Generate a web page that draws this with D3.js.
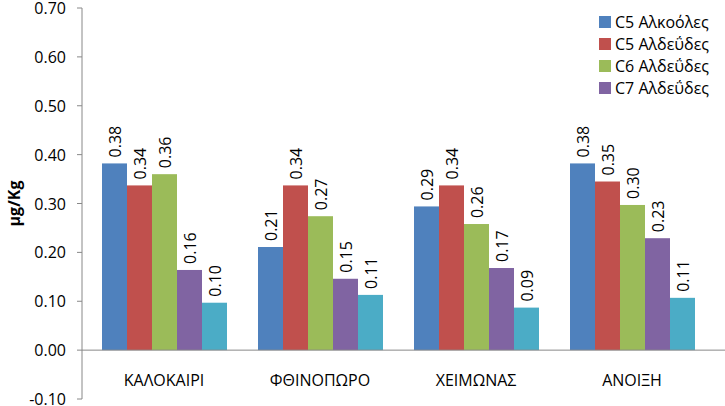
<!DOCTYPE html><html><head><meta charset="utf-8"><script src="https://cdn.jsdelivr.net/npm/d3@7"></script>
<style>body{margin:0;background:#fff}text{font-family:"Open Sans",sans-serif}</style></head><body><svg width="725" height="406"></svg><script>
const categories=["ΚΑΛΟΚΑΙΡΙ","ΦΘΙΝΟΠΩΡΟ","ΧΕΙΜΩΝΑΣ","ΑΝΟΙΞΗ"];
const series=["C5 Αλκοόλες","C5 Αλδεΰδες","C6 Αλδεΰδες","C7 Αλδεΰδες","C8 Αλδεΰδες"];
const colors=["#4F81BD","#C0504D","#9BBB59","#8064A2","#4BACC6"];
const values=[[0.38,0.34,0.36,0.16,0.10],[0.21,0.34,0.27,0.15,0.11],[0.29,0.34,0.26,0.17,0.09],[0.38,0.35,0.30,0.23,0.11]];
const exact=[[0.382,0.337,0.360,0.164,0.097],[0.211,0.337,0.274,0.146,0.113],[0.294,0.337,0.258,0.168,0.087],[0.382,0.345,0.297,0.229,0.107]];
const yTicks=[-0.1,0,0.1,0.2,0.3,0.4,0.5,0.6,0.7];
const svg=d3.select("svg");
const y=d3.scaleLinear().domain([-0.1,0.7]).range([399,8]);
const x=d3.scaleBand().domain(categories).range([86,710]);
const xs=d3.scaleBand().domain(d3.range(5)).range([16,141]);
svg.append("line").attr("x1",82).attr("x2",82).attr("y1",y(0.7)).attr("y2",y(-0.1)).attr("stroke","#888");
yTicks.forEach(t=>{svg.append("line").attr("x1",77).attr("x2",82).attr("y1",y(t)).attr("y2",y(t)).attr("stroke","#888");
svg.append("text").attr("x",66).attr("y",y(t)+6).attr("text-anchor","end").attr("font-size",16).text(t.toFixed(2));});
svg.append("text").attr("transform","translate(20,"+y(0.3)+") rotate(-90)").attr("text-anchor","middle").attr("font-size",16).attr("font-weight","bold").text("μg/Kg");
categories.forEach((c,i)=>{
 const g=svg.append("g").attr("transform","translate("+x(c)+",0)");
 exact[i].forEach((v,j)=>{
  g.append("rect").attr("x",xs(j)).attr("width",xs.bandwidth()).attr("y",y(v)).attr("height",y(0)-y(v)).attr("fill",colors[j]);
  const cx=xs(j)+xs.bandwidth()/2+6;
  g.append("text").attr("transform","translate("+cx+","+(y(v)-6)+") rotate(-90)").attr("font-size",16).text(values[i][j].toFixed(2));
 });
 svg.append("text").attr("x",x(c)+x.bandwidth()/2).attr("y",y(0)+36).attr("text-anchor","middle").attr("font-size",16).text(c);
});
svg.append("line").attr("x1",82).attr("x2",725).attr("y1",y(0)).attr("y2",y(0)).attr("stroke","#888");
series.slice(0,4).forEach((s,i)=>{
 svg.append("rect").attr("x",599).attr("y",16+i*22).attr("width",12).attr("height",12).attr("fill",colors[i]);
 svg.append("text").attr("x",615).attr("y",28+i*22).attr("font-size",16).text(s);
});
</script></body></html>
